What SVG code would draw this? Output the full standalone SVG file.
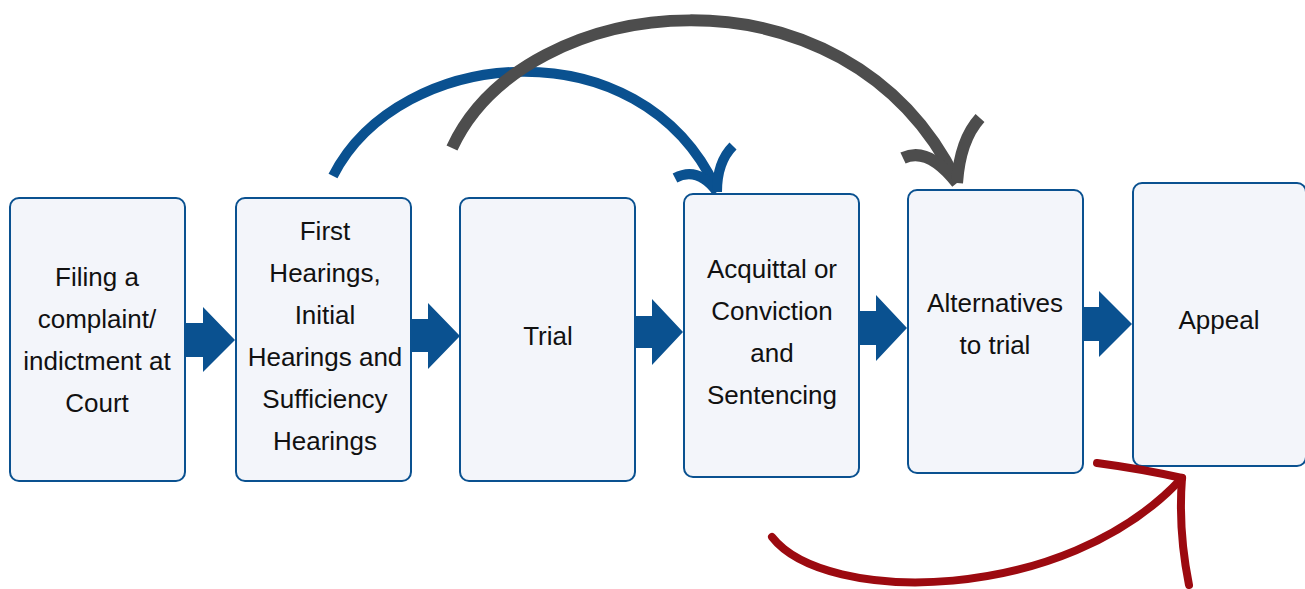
<svg xmlns="http://www.w3.org/2000/svg" width="1305" height="589" viewBox="0 0 1305 589">
  <style>
    .box { fill: #f3f5fa; stroke: #0a5190; stroke-width: 2; }
    .lbl { font-family: "Liberation Sans", Arial, sans-serif; font-size: 26px; fill: #111111; text-anchor: middle; }
    .step { fill: #0a5190; }
    .curve { fill: none; stroke-linecap: butt; }
    .blue { stroke: #0a5190; stroke-width: 10; }
    .gray { stroke: #4d4d4d; stroke-width: 12; }
    .red { stroke: #9c0a10; stroke-width: 8; stroke-linecap: round; }
  </style>
  <rect width="1305" height="589" fill="#ffffff"/>

  <g id="node-filing">
    <rect class="box" x="10" y="198" width="175" height="283" rx="9"/>
    <text class="lbl" x="97" y="286">Filing a</text>
    <text class="lbl" x="97" y="328">complaint/</text>
    <text class="lbl" x="97" y="370">indictment at</text>
    <text class="lbl" x="97" y="412">Court</text>
  </g>

  <g id="node-hearings">
    <rect class="box" x="236" y="198" width="175" height="283" rx="9"/>
    <text class="lbl" x="325" y="240">First</text>
    <text class="lbl" x="325" y="282">Hearings,</text>
    <text class="lbl" x="325" y="324">Initial</text>
    <text class="lbl" x="325" y="366">Hearings and</text>
    <text class="lbl" x="325" y="408">Sufficiency</text>
    <text class="lbl" x="325" y="450">Hearings</text>
  </g>

  <g id="node-trial">
    <rect class="box" x="460" y="198" width="175" height="283" rx="9"/>
    <text class="lbl" x="548" y="345">Trial</text>
  </g>

  <g id="node-verdict">
    <rect class="box" x="684" y="194" width="175" height="283" rx="9"/>
    <text class="lbl" x="772" y="278">Acquittal or</text>
    <text class="lbl" x="772" y="320">Conviction</text>
    <text class="lbl" x="772" y="362">and</text>
    <text class="lbl" x="772" y="404">Sentencing</text>
  </g>

  <g id="node-alternatives">
    <rect class="box" x="908" y="190" width="175" height="283" rx="9"/>
    <text class="lbl" x="995" y="312">Alternatives</text>
    <text class="lbl" x="995" y="354">to trial</text>
  </g>

  <g id="node-appeal">
    <rect class="box" x="1133" y="183" width="173" height="283" rx="9"/>
    <text class="lbl" x="1219" y="329">Appeal</text>
  </g>

  <g id="connectors">
    <!-- block arrows between consecutive steps -->
    <polygon class="step" points="186,323 203,323 203,307 235,340 203,372 203,357 186,357"/>
    <polygon class="step" points="412,319 428,319 428,303 460,336 428,369 428,352 412,352"/>
    <polygon class="step" points="636,316 652,316 652,299 683,332 652,365 652,348 636,348"/>
    <polygon class="step" points="859,311 876,311 876,295 907,328 876,361 876,345 859,345"/>
    <polygon class="step" points="1083,307 1099,307 1099,291 1132,324 1099,357 1099,341 1083,341"/>

    <!-- hearings to verdict -->
    <path class="curve blue" d="M333,176 C400,45 640,25 716,188"/>
    <path class="curve blue" d="M675,178 Q698,166 717,192"/>
    <path class="curve blue" d="M733,146 Q717,162 717,192"/>

    <!-- trial to alternatives -->
    <path class="curve gray" d="M452,148 C525,-10 845,-45 956,180"/>
    <path class="curve gray" d="M903,158 Q928,146 957,183"/>
    <path class="curve gray" d="M980,118 Q960,140 957,183"/>

    <!-- verdict to appeal -->
    <path class="curve red" d="M772,537 C825,605 1065,605 1182,478"/>
    <path class="curve red" d="M1097,463 Q1142,469 1182,478"/>
    <path class="curve red" d="M1182,478 Q1178,530 1189,585"/>
  </g>
</svg>
